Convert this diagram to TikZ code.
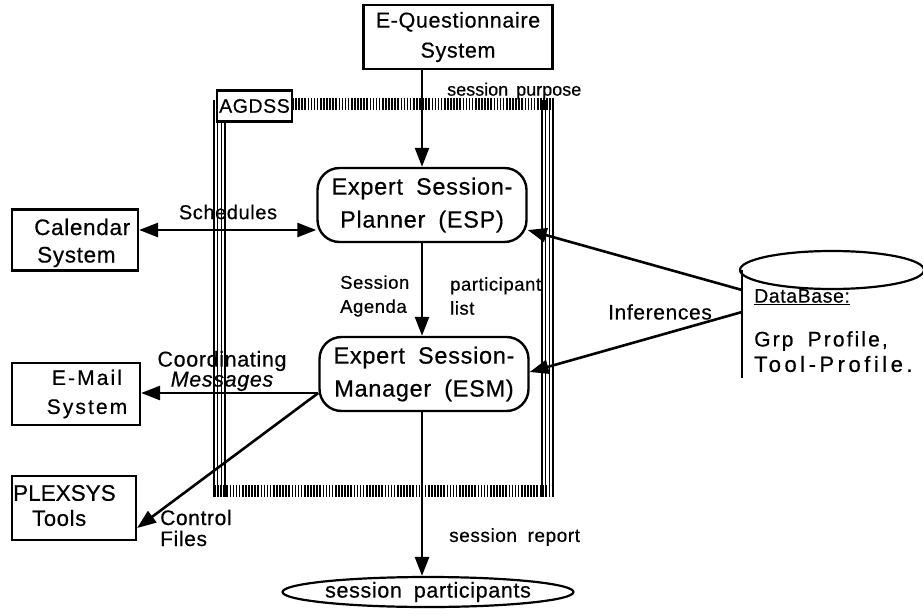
\documentclass[tikz,border=0pt]{standalone}
\usepackage{fontspec}
\setmainfont{Liberation Sans}[WordSpace={1.6}, FakeBold=0.5]
\newfontfamily\wide{Liberation Sans}[LetterSpace=3, WordSpace={1.8}, FakeBold=0.5]
\newfontfamily\wider{Liberation Sans}[LetterSpace=10, WordSpace={1.8}, FakeBold=0.5]
\newfontfamily\widest{Liberation Sans}[LetterSpace=16, WordSpace={1.4}, FakeBold=0.5]
\usetikzlibrary{arrows.meta,shapes.geometric}
\begin{document}
\begin{tikzpicture}[x=1pt,y=-1pt,
  every node/.style={font=\wide\fontsize{19}{25}\selectfont, align=center},
  box/.style={draw, line width=2.2pt, inner sep=0pt},
  rbox/.style={draw, line width=2.4pt, rounded corners=22pt, inner sep=0pt, minimum width=209pt, minimum height=74pt,
    font=\wide\fontsize{23.5}{33}\selectfont},
  lbl/.style={inner sep=0pt},
  conn/.style={line width=2.6pt},
  tip/.style={-{Triangle[length=19pt,width=14pt]}},
  frame/.style={line width=1.3pt},
  band/.style={line width=12pt, dash pattern=on 1.6pt off 1.5pt}
]
\useasboundingbox (0,0) rectangle (923,615);

% AGDSS frame
\foreach \dx in {0,3.7,7.4,11.1} {
  \draw[frame] (214+\dx,100) -- (214+\dx,497);
  \draw[frame] (542+\dx,100) -- (542+\dx,497);
}
\draw[band] (292,104) -- (554,104);
\draw[band] (214,491) -- (554,491);

\node[box, fill=white, minimum width=75pt, minimum height=31pt, font=\wide\fontsize{19.5}{24}\selectfont] (agdss) at (254.5,106) {AGDSS};

% nodes
\node[box, minimum width=189pt, minimum height=64pt, font=\wide\fontsize{21.5}{30}\selectfont] (eq) at (458,37) {E-Questionnaire\\System};
\node[rbox] (esp) at (422,205) {Expert Session-\\Planner (ESP)};
\node[rbox] (esm) at (424,374) {Expert Session-\\Manager (ESM)};
\node[box, minimum width=126pt, minimum height=61pt] (cal) at (75,240) {};
\node[lbl, anchor=west, font=\wide\fontsize{22.5}{25}\selectfont] at (34,227) {Calendar};
\node[lbl, anchor=west, font=\wide\fontsize{22.5}{25}\selectfont] at (37,257) {System};
\node[box, minimum width=128pt, minimum height=62pt] (mail) at (76,394) {};
\node[lbl, font=\wider\fontsize{21}{29}\selectfont] at (87,394) {E-Mail\\System};
\node[box, minimum width=124pt, minimum height=64pt] (plex) at (74,508) {};
\node[lbl, anchor=west, font=\fontsize{22.5}{25}\selectfont] at (13,493) {PLEXSYS};
\node[lbl, anchor=west, font=\wide\fontsize{22}{25}\selectfont] at (32,518) {Tools};
\node[ellipse, draw, line width=2.2pt, minimum width=245pt, minimum height=30pt, inner sep=0pt,
  font=\wide\fontsize{21.5}{24}\selectfont] (part) at (428,592) {session participants};

% database
\draw[line width=2.2pt] (832,270) ellipse [x radius=92pt, y radius=19pt];
\coordinate (dbA) at (742,290);
\coordinate (dbB) at (742,312);
\draw[line width=2.2pt] (742,270) -- (742,378);
\node[lbl, anchor=west, font=\wide\fontsize{19.5}{24}\selectfont] (dbt) at (754,297) {\underline{DataBase:}};
\node[lbl, anchor=west, font=\wider\fontsize{21}{24}\selectfont] at (754,341) {Grp Profile,};
\node[lbl, anchor=west, font=\widest\fontsize{22}{24}\selectfont] at (754,364) {Tool-Profile.};

% connectors
\draw[conn, tip] (eq.south -| esp.north) -- (esp.north);
\draw[conn, {Triangle[length=19pt,width=14pt]}-{Triangle[length=19pt,width=14pt]}] (cal.east |- 0,230) -- (esp.west |- 0,230);
\draw[conn, tip] (esp.south) -- (esp.south |- esm.north);
\draw[conn, tip] (dbA) -- (esp.east |- 0,230);
\draw[conn, tip] (dbB) -- (esm.east |- 0,372);
\coordinate (esmw) at (esm.west |- 0,393);
\draw[conn, tip] (esmw) -- (mail.east |- 0,393);
\draw[conn, tip] (esmw) -- (plex.east |- 0,528);
\draw[conn, tip] (esp.south |- esm.south) -- (esp.south |- part.north);

% labels
\node[lbl, anchor=west, font=\fontsize{18}{24}\selectfont] at (447,91) {session purpose};
\node[lbl, font=\wide\fontsize{20}{24}\selectfont] at (228,212) {Schedules};
\node[lbl, align=left, anchor=west, font=\wide\fontsize{18.5}{24}\selectfont] at (340,296) {Session\\Agenda};
\node[lbl, align=left, anchor=west, font=\wide\fontsize{18.5}{24}\selectfont] at (450,296) {participant\\list};
\node[lbl, font=\wide\fontsize{21}{24}\selectfont] at (660,312) {Inferences};
\node[lbl, font=\wide\fontsize{21.5}{20}\selectfont] at (222,371) {Coordinating\\\itshape Messages};
\node[lbl, align=left, anchor=west, font=\wide\fontsize{21}{21}\selectfont] at (160,528) {Control\\Files};
\node[lbl, anchor=west, font=\wide\fontsize{19}{24}\selectfont] at (449,537) {session report};
\end{tikzpicture}
\end{document}
